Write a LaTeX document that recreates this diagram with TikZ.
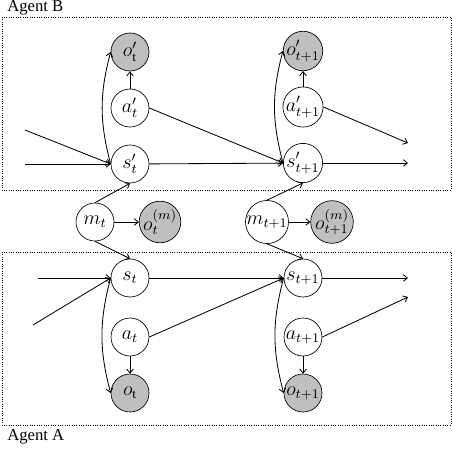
\documentclass[tikz,border=0pt]{standalone}
\usepackage{fontspec}
\setmainfont{Liberation Serif}
\usetikzlibrary{arrows.meta}

\begin{document}
\begin{tikzpicture}[x=0.6pt,y=-0.6pt,>={Straight Barb[length=2.4pt,width=4pt]},
  var/.style={draw,circle,minimum size=22.8pt,inner sep=0pt,font=\large},
  obs/.style={var,fill=gray!50},
  agent/.style={draw,densely dotted},
  lbl/.style={anchor=west,inner sep=0pt},
  edge/.style={->,line width=0.5pt}]
  \useasboundingbox (0,0) rectangle (452,448);
  % agents
  \draw[agent] (2,17) rectangle (451,190);
  \draw[agent] (2,252) rectangle (451,425);
  \node[lbl] (labB) at (7,8) {Agent B};
  \node[lbl] (labA) at (7,437) {Agent A};
  % agent B
  \node[obs] (oB1) at (130,52) {$o'_{\mathrm{t}}$};
  \node[var] (aB1) at (130,108) {$a'_t$};
  \node[var] (sB1) at (130,164) {$s'_t$};
  \node[obs] (oB2) at (303,51) {$o'_{t+1}$};
  \node[var] (aB2) at (303,107) {$a'_{t+1}$};
  \node[var] (sB2) at (303,163) {$s'_{t+1}$};
  % messages
  \node[var] (m1) at (95,222) {$m_t$};
  \node[obs] (om1) at (160,222) {$o^{(m)}_t$};
  \node[var] (m2) at (267,222) {$m_{t+1}$};
  \node[obs] (om2) at (332,222) {$o^{(m)}_{t+1}$};
  % agent A
  \node[var] (sA1) at (130,278) {$s_t$};
  \node[var] (aA1) at (130,337) {$a_t$};
  \node[obs] (oA1) at (130,393) {$o_{\mathrm{t}}$};
  \node[var] (sA2) at (303,278) {$s_{t+1}$};
  \node[var] (aA2) at (303,337) {$a_{t+1}$};
  \node[obs] (oA2) at (303,393) {$o_{t+1}$};
  % loose ends
  \coordinate (inB1) at (25,130);
  \coordinate (inB2) at (25,164);
  \coordinate (outBa) at (408,143);
  \coordinate (outBs) at (408,163);
  \coordinate (inA1) at (38,278);
  \coordinate (inA2) at (33,325);
  \coordinate (outAs) at (408,278);
  \coordinate (outAa) at (408,297);

  \draw[edge] (inB1)--(sB1.west); \draw[edge] (inB2)--(sB1.west);
  \draw[edge] (aB1)--(oB1); \draw[edge] (aB2)--(oB2);
  \draw[edge] (sB1.west) to[bend left=15] (oB1.west);
  \draw[edge] (sB2.west) to[bend left=15] (oB2.west);
  \draw[edge] (sB1)--(sB2); \draw[edge] (aB1.east)--(sB2.west);
  \draw[edge] (sB2)--(outBs); \draw[edge] (aB2.east)--(outBa);
  \draw[edge] (m1.north)--(sB1.south); \draw[edge] (m2.north)--(sB2.south);
  \draw[edge] (m1)--(om1); \draw[edge] (m2)--(om2);
  \draw[edge] (m1.south)--(sA1.north); \draw[edge] (m2.south)--(sA2.north);
  \draw[edge] (inA1)--(sA1.west); \draw[edge] (inA2)--(sA1.west);
  \draw[edge] (sA1)--(sA2); \draw[edge] (aA1.east)--(sA2.west);
  \draw[edge] (sA2)--(outAs); \draw[edge] (aA2.east)--(outAa);
  \draw[edge] (aA1)--(oA1); \draw[edge] (aA2)--(oA2);
  \draw[edge] (sA1.west) to[bend right=15] (oA1.west);
  \draw[edge] (sA2.west) to[bend right=15] (oA2.west);
\end{tikzpicture}
\end{document}
